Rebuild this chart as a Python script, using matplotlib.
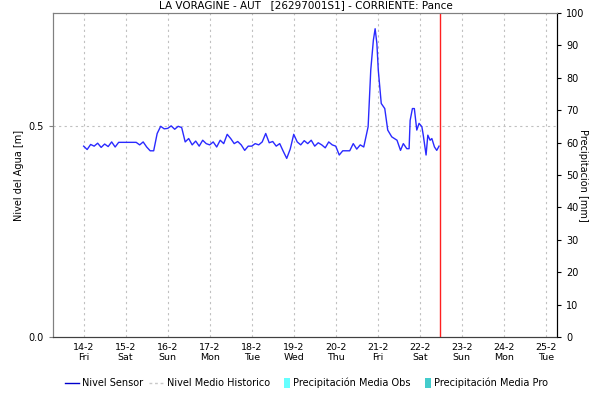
import matplotlib
matplotlib.use("Agg")
import matplotlib.pyplot as plt
import numpy as np
from matplotlib.lines import Line2D
from matplotlib.patches import Patch, Rectangle
from matplotlib.legend_handler import HandlerPatch

# hours since 14-2 00:00
hours_regular = list(range(0, 161, 2))
level_regular = [
    0.452, 0.444, 0.456, 0.452, 0.459, 0.449, 0.457, 0.451, 0.462, 0.450, 0.461, 0.461,
    0.461, 0.461, 0.461, 0.461, 0.455, 0.462, 0.450, 0.441, 0.441, 0.482, 0.499, 0.493,
    0.494, 0.500, 0.492, 0.499, 0.496, 0.462, 0.470, 0.455, 0.464, 0.452, 0.466, 0.458,
    0.455, 0.462, 0.450, 0.466, 0.458, 0.480, 0.470, 0.458, 0.463, 0.455, 0.442, 0.452,
    0.452, 0.458, 0.455, 0.462, 0.482, 0.460, 0.463, 0.452, 0.458, 0.440, 0.423, 0.445,
    0.480, 0.462, 0.455, 0.465, 0.458, 0.466, 0.452, 0.460, 0.455, 0.448, 0.462, 0.455,
    0.452, 0.431, 0.441, 0.441, 0.441, 0.458, 0.445, 0.455, 0.450,
]
hours_event = [162.5, 164, 165.5, 166.5, 167.5, 168.3, 170, 172, 173.7, 176, 179, 181,
               182.6, 184.6, 185.9, 186.5, 187.8, 188.9, 190.3, 191.6, 193.2, 194,
               195.6, 196.6, 197.9, 198.9, 200.4, 201.7, 203]
level_event = [0.498, 0.632, 0.703, 0.730, 0.695, 0.632, 0.553, 0.541, 0.490, 0.474, 0.466, 0.442,
               0.458, 0.446, 0.446, 0.513, 0.541, 0.541, 0.490, 0.506, 0.498, 0.478,
               0.431, 0.478, 0.466, 0.470, 0.450, 0.442, 0.452]

day_labels = ["14-2\nFri", "15-2\nSat", "16-2\nSun", "17-2\nMon", "18-2\nTue", "19-2\nWed",
              "20-2\nThu", "21-2\nFri", "22-2\nSat", "23-2\nSun", "24-2\nMon", "25-2\nTue"]
now_hour = 203.5

hours = hours_regular + hours_event
level = level_regular + level_event


def narrow_patch(legend, orig_handle, xdescent, ydescent, width, height, fontsize):
    # small square swatch, like the original legend
    w = height * 0.9
    return Rectangle((width - w - xdescent, -ydescent - 1), w, height + 2)


plt.rcParams['font.family'] = ['DejaVu Sans']
fig = plt.figure(figsize=(5.89, 3.97), dpi=100)
ax = fig.add_axes([0.090, 0.151, 0.856, 0.816])
ax2 = ax.twinx()

ax.plot(hours, level, color='#2a2aff', lw=1.0, zorder=3)
ax.axvline(now_hour, color='#ff2020', lw=1.0, zorder=4)

ax.set_xlim(-17.5, 270.5)
ax.set_ylim(0, 0.767)
ax2.set_ylim(0, 100)

day_ticks = [24 * i for i in range(len(day_labels))]
ax.set_xticks(day_ticks)
ax.set_xticklabels(day_labels, fontsize=6.8)
ax.set_yticks([0.0, 0.5])
ax.set_yticklabels(["0.0", "0.5"], fontsize=7)
ax2.set_yticks(range(0, 101, 10))
ax2.tick_params(axis='y', labelsize=7, length=3, color='black')
ax.tick_params(axis='y', length=3, color='#808080')
ax.tick_params(axis='x', length=0, pad=4)

for t in day_ticks:
    ax.axvline(t, color='#c0c0c0', lw=0.8, ls=(0, (2, 3)), zorder=1)
ax.axhline(0.5, color='#c0c0c0', lw=0.8, ls=(0, (2, 3)), zorder=1)

for a in (ax, ax2):
    a.spines['left'].set_color('#808080')
    a.spines['top'].set_color('#808080')
    a.spines['right'].set_color('black')
    a.spines['bottom'].set_linestyle((0, (1, 1)))
    a.spines['bottom'].set_color('#404040')

ax.set_ylabel("Nivel del Agua [m]", fontsize=7)
ax.yaxis.set_label_coords(-0.058, 0.5)
ax2.set_ylabel("Precipitación [mm]", fontsize=7, rotation=-90, va='center')
ax2.yaxis.set_label_coords(1.052, 0.5)

fig.text(0.52, 0.999, "LA VORAGINE - AUT   [26297001S1] - CORRIENTE: Pance",
         ha='center', va='top', fontsize=7.5)

handles = [
    Line2D([0], [0], color='#0000cc', lw=1),
    Line2D([0], [0], color='#c8c8c8', lw=1, ls=(0, (2, 2))),
    Patch(facecolor='#66ffff', edgecolor='none'),
    Patch(facecolor='#44cccc', edgecolor='none'),
]
labels = ["Nivel Sensor", "Nivel Medio Historico", "Precipitación Media Obs", "Precipitación Media Pro"]
fig.legend(handles, labels, loc='center', bbox_to_anchor=(0.52, 0.035), ncol=4, frameon=False,
           fontsize=7, handlelength=1.5, handletextpad=0.3, columnspacing=0.6,
           handler_map={Patch: HandlerPatch(patch_func=narrow_patch)})

fig.savefig("out.png", dpi=100)
